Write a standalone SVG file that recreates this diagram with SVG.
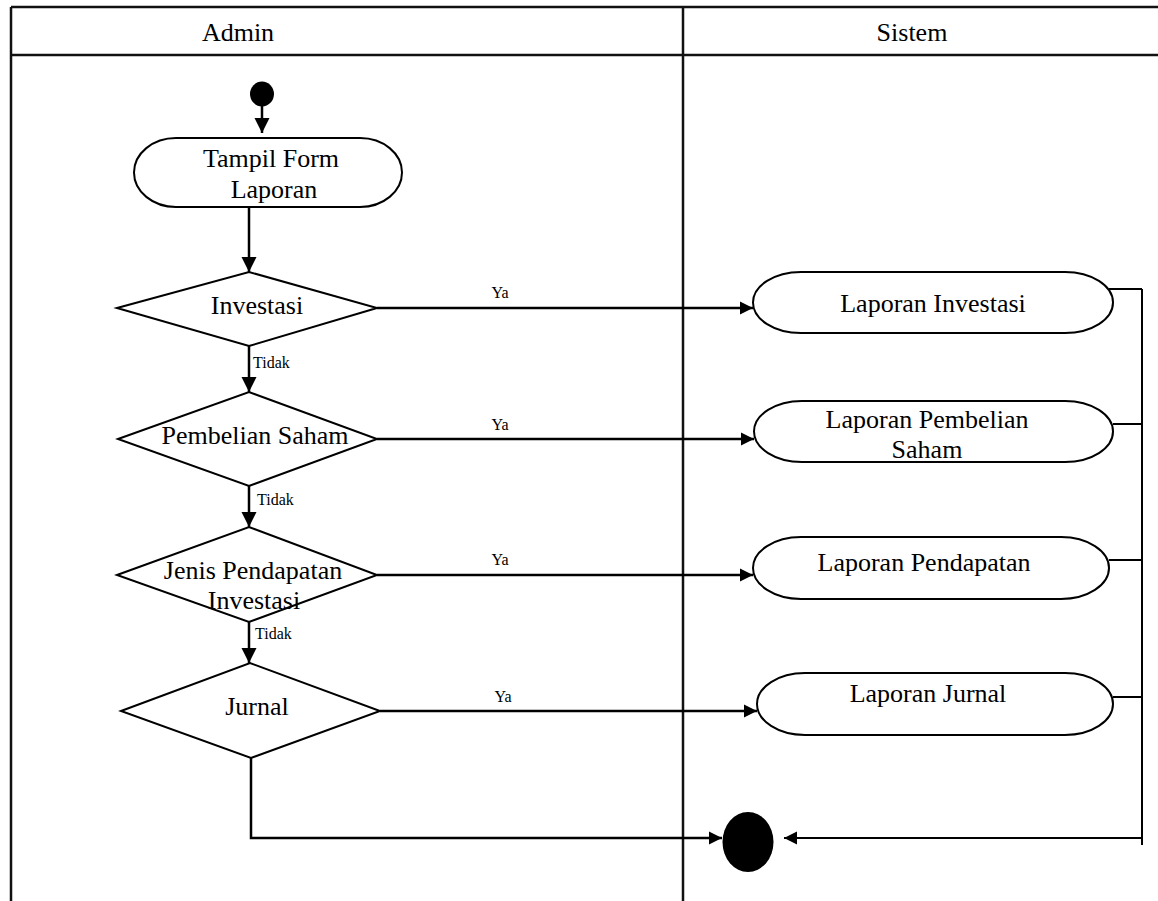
<svg xmlns="http://www.w3.org/2000/svg" width="1158" height="901" viewBox="0 0 1158 901">
<style>
.frame{stroke:#111;stroke-width:2.5;fill:none}
.node{fill:#fff;stroke:#000;stroke-width:2}
.t{font-family:"Liberation Serif","Times New Roman",serif;font-size:26px;fill:#000;text-anchor:middle}
.s{font-family:"Liberation Serif","Times New Roman",serif;font-size:16px;fill:#000;text-anchor:middle}
.l{text-anchor:start}
.c{stroke:#000;stroke-width:2.5;fill:none}
.c2{stroke:#000;stroke-width:2;fill:none}
</style>
<defs>
<marker id="ah" markerUnits="userSpaceOnUse" markerWidth="16" markerHeight="16" viewBox="0 0 16 16" refX="15" refY="8" orient="auto"><path d="M0,0.5 L15,8 L0,15.5 Z" fill="#000"/></marker>
<marker id="ahs" markerUnits="userSpaceOnUse" markerWidth="14" markerHeight="14" viewBox="0 0 14 14" refX="13" refY="7" orient="auto"><path d="M0,0.5 L13,7 L0,13.5 Z" fill="#000"/></marker>
</defs>
<rect width="1158" height="901" fill="#fff"/>
<g id="swimlanes">
<path class="frame" d="M11,7 H1158 M11,55 H1158 M11,7 V901 M683,7 V901"/>
<text class="t" x="238" y="41">Admin</text>
<text class="t" x="912" y="41">Sistem</text>
</g>
<g id="connectors">
<line class="c" x1="262" y1="106" x2="262" y2="133" marker-end="url(#ah)"/>
<line class="c" x1="249" y1="207" x2="249" y2="272" marker-end="url(#ah)"/>
<line class="c" x1="249" y1="346" x2="249" y2="392" marker-end="url(#ah)"/>
<line class="c" x1="249" y1="486" x2="249" y2="527" marker-end="url(#ah)"/>
<line class="c" x1="249" y1="622" x2="249" y2="663" marker-end="url(#ah)"/>
<line class="c" x1="377" y1="308" x2="753" y2="308" marker-end="url(#ahs)"/>
<line class="c" x1="377" y1="439" x2="754" y2="439" marker-end="url(#ahs)"/>
<line class="c" x1="377" y1="575" x2="753" y2="575" marker-end="url(#ahs)"/>
<line class="c" x1="380" y1="711" x2="757" y2="711" marker-end="url(#ahs)"/>
<path class="c2" d="M1109,289 H1142 M1113,424 H1142 M1109,560 H1142 M1113,697 H1142 M1142,289 V845"/>
<line class="c2" x1="1142" y1="838" x2="784" y2="838" marker-end="url(#ahs)"/>
<polyline class="c" points="251,758 251,838 722,838" marker-end="url(#ahs)"/>
<text class="s l" x="253" y="368">Tidak</text>
<text class="s l" x="257" y="505">Tidak</text>
<text class="s l" x="255" y="639">Tidak</text>
<text class="s" x="500" y="298">Ya</text>
<text class="s" x="500" y="430">Ya</text>
<text class="s" x="500" y="565">Ya</text>
<text class="s" x="503" y="702">Ya</text>
</g>
<g id="start"><ellipse cx="262" cy="94" rx="12" ry="12.5" fill="#000"/></g>
<g id="tampil-form">
<rect class="node" x="134" y="138" width="268" height="69" rx="42" ry="34.5"/>
<text class="t" x="271" y="167">Tampil Form</text>
<text class="t" x="274" y="198">Laporan</text>
</g>
<g id="d-investasi">
<polygon class="node" points="117,308 249,272 377,308 249,346"/>
<text class="t" x="257" y="314">Investasi</text>
</g>
<g id="d-pembelian">
<polygon class="node" points="118,439 249,392 377,439 249,486"/>
<text class="t" x="255" y="444">Pembelian Saham</text>
</g>
<g id="d-pendapatan">
<polygon class="node" points="117,575 249,527 377,575 249,622"/>
<text class="t" x="253" y="579">Jenis Pendapatan</text>
<text class="t" x="254" y="609">Investasi</text>
</g>
<g id="d-jurnal">
<polygon class="node" points="121,711 250,663 380,711 251,758"/>
<text class="t" x="257" y="715">Jurnal</text>
</g>
<g id="laporan-investasi">
<rect class="node" x="753" y="272" width="360" height="61" rx="48" ry="30.5"/>
<text class="t" x="933" y="312">Laporan Investasi</text>
</g>
<g id="laporan-pembelian">
<rect class="node" x="754" y="401" width="359" height="61" rx="48" ry="30.5"/>
<text class="t" x="927" y="428">Laporan Pembelian</text>
<text class="t" x="927" y="458">Saham</text>
</g>
<g id="laporan-pendapatan">
<rect class="node" x="753" y="537" width="356" height="62" rx="48" ry="31"/>
<text class="t" x="924" y="571">Laporan Pendapatan</text>
</g>
<g id="laporan-jurnal">
<rect class="node" x="757" y="673" width="356" height="62" rx="48" ry="31"/>
<text class="t" x="928" y="702">Laporan Jurnal</text>
</g>
<g id="end"><ellipse cx="748" cy="842" rx="25.5" ry="30" fill="#000"/></g>
</svg>
